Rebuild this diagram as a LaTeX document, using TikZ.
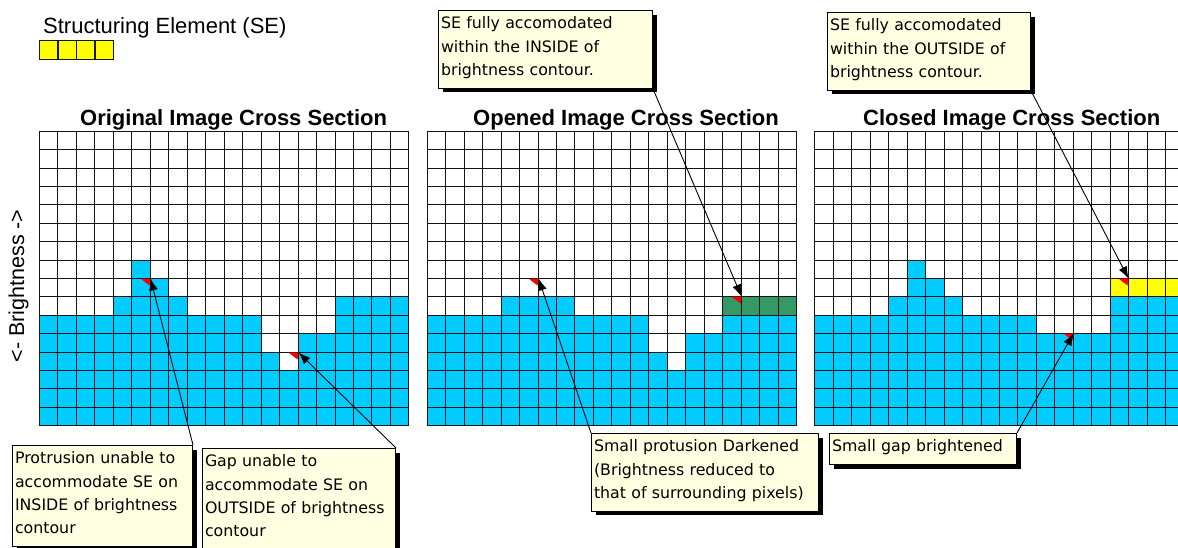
\documentclass[tikz,border=0pt]{standalone}
\usepackage{fontspec}
\setmainfont{Liberation Sans}
\newfontfamily\tipfont{DejaVu Sans}
\usetikzlibrary{arrows.meta,shadows,calc}

\definecolor{pixblue}{RGB}{0,204,255}
\definecolor{segreen}{RGB}{51,153,102}
\definecolor{seyellow}{RGB}{255,255,0}
\definecolor{tipbg}{RGB}{255,255,225}
\definecolor{markred}{RGB}{255,0,0}
\definecolor{gridink}{RGB}{20,20,20}

% struts fixing the space above the first and below the last line of a callout
\newcommand\tipA{\rule{0pt}{18.3pt}}
\newcommand\tipZ{\rule[-13pt]{0pt}{13pt}}

% pixel cell size and top edge of the three cross sections
\def\pxw{18.47}
\def\pxh{18.4}
\def\gtop{130.9}
\def\gxa{39}
\def\gxb{426.7}
\def\gxc{814.3}

% blue columns: #1 = left edge, #2 = brightness (cells) of each of the 20 columns
\newcommand\profile[2]{%
  \foreach \h [count=\c from 0] in {#2}{%
    \fill[pixblue] ({round(#1+\c*\pxw)+0.5},{round(\gtop+(16-\h)*\pxh)+0.5}) rectangle ({round(#1+(\c+1)*\pxw)+0.5},{round(\gtop+16*\pxh)+0.5});
  }}

% 20 x 16 cell grid with its left edge at #1, lines centred on whole pixels
\newcommand\pixgrid[1]{%
  \foreach \i in {0,...,20}{\draw[cellline] ({round(#1+\i*\pxw)+0.5},{round(\gtop)+0.5}) -- ({round(#1+\i*\pxw)+0.5},{round(\gtop+16*\pxh)+0.5});}
  \foreach \j in {0,...,16}{\draw[cellline] ({round(#1)+0.5},{round(\gtop+\j*\pxh)+0.5}) -- ({round(#1+20*\pxw)+0.5},{round(\gtop+\j*\pxh)+0.5});}}

% a band of cells: #1 = grid left edge, #2/#3 = first/last+1 column, #4 = row, #5 = colour
\newcommand\band[5]{%
  \fill[#5] ({round(#1+#2*\pxw)+0.5},{round(\gtop+#4*\pxh)+0.5}) rectangle ({round(#1+#3*\pxw)+0.5},{round(\gtop+(#4+1)*\pxh)+0.5});}

\begin{document}
\begin{tikzpicture}[x=1pt,y=-1pt,
  cellline/.style={draw=gridink, line width=1.5pt, line cap=rect},
  heading/.style={anchor=base west, inner sep=0pt, font={\bfseries\fontsize{22}{22}\selectfont}},
  tip/.style={draw=black, line width=1pt, fill=tipbg, anchor=north west,
    inner xsep=2.5pt, inner ysep=0pt, align=left,
    font={\tipfont\fontsize{15.8}{23.3}\selectfont\parindent=0pt},
    drop shadow={shadow xshift=4pt, shadow yshift=-4pt, fill=black, opacity=1}},
  leader/.style={draw=black, line width=0.9pt, -{Latex[length=12pt,width=9pt]}},
]
\useasboundingbox (0,0) rectangle (1178,547);
\clip (0,0) rectangle (1178,547);
\fill[white] (0,0) rectangle (1178,547);

% structuring element
\node[anchor=base west, inner sep=0pt, font={\fontsize{22}{22}\selectfont}] (selabel) at (43,33.3) {Structuring Element (SE)};
\foreach \i in {0,...,3}{\draw[cellline, fill=seyellow] ({39.5+\i*18.5},40.5) rectangle ({39.5+(\i+1)*18.5},59.5);}

% cross sections
\profile{\gxa}{6,6,6,6,7,9,8,7,6,6,6,6,4,3,5,5,7,7,7,7}
\profile{\gxb}{6,6,6,6,7,7,7,7,6,6,6,6,4,3,5,5,7,7,7,7}
\band{\gxb}{16}{20}{9}{segreen}
\profile{\gxc}{6,6,6,6,7,9,8,7,6,6,6,6,5,5,5,5,7,7,7,7}
\band{\gxc}{16}{20}{8}{seyellow}
\pixgrid{\gxa}
\pixgrid{\gxb}
\pixgrid{\gxc}

% headings and axis label
\node[heading] (t1) at (80,125) {Original Image Cross Section};
\node[heading] (t2) at (473,125) {Opened Image Cross Section};
\node[heading] (t3) at (863,125) {Closed Image Cross Section};
\node[rotate=90, inner sep=0pt, font={\fontsize{21.5}{21.5}\selectfont}] (ylab) at (18.5,286) {<- Brightness ->};

% marked cell corners
\coordinate (p1) at ({round(\gxa+6*\pxw)+0.5},{round(\gtop+8*\pxh)+0.5});
\coordinate (p2) at ({round(\gxa+14*\pxw)+0.5},{round(\gtop+12*\pxh)+0.5});
\coordinate (p3) at ({round(\gxb+6*\pxw)+0.5},{round(\gtop+8*\pxh)+0.5});
\coordinate (p4) at ({round(\gxb+17*\pxw)+0.5},{round(\gtop+9*\pxh)+0.5});
\coordinate (p5) at ({round(\gxc+17*\pxw)+0.5},{round(\gtop+8*\pxh)+0.5});
\coordinate (p6) at ({round(\gxc+14*\pxw)+0.5},{round(\gtop+11*\pxh)+0.5});
\foreach \k in {1,...,6}{\fill[markred] (p\k) -- ++(-10,0) -- ++(9,7) -- cycle;}

% callouts
\node[tip, text width=175pt] (c1) at (12,445) {\tipA Protrusion unable to\\accommodate SE on\\INSIDE of brightness\\contour\tipZ};
\node[tip, text width=188pt] (c2) at (202,448) {\tipA Gap unable to\\accommodate SE on\\OUTSIDE of brightness\\contour\tipZ};
\node[tip, text width=209pt] (c3) at (438,10) {\tipA SE fully accomodated\\within the INSIDE of\\brightness contour.\tipZ};
\node[tip, text width=198pt] (c4) at (827,12) {\tipA SE fully accomodated\\within the OUTSIDE of\\brightness contour.\tipZ};
\node[tip, text width=222pt] (c5) at (591,433) {\tipA Small protusion Darkened\\(Brightness reduced to\\that of surrounding pixels)\tipZ};
\node[tip, text width=182pt] (c6) at (829,433) {\tipA Small gap brightened\tipZ};

% leaders
\draw[leader] (c1.north east) -- (p1);
\draw[leader] (c2.north east) -- (p2);
\draw[leader] (c3.south east) -- (p4);
\draw[leader] (c4.south east) -- (p5);
\draw[leader] (c5.north west) -- (p3);
\draw[leader] (c6.north east) -- (p6);
\end{tikzpicture}
\end{document}
